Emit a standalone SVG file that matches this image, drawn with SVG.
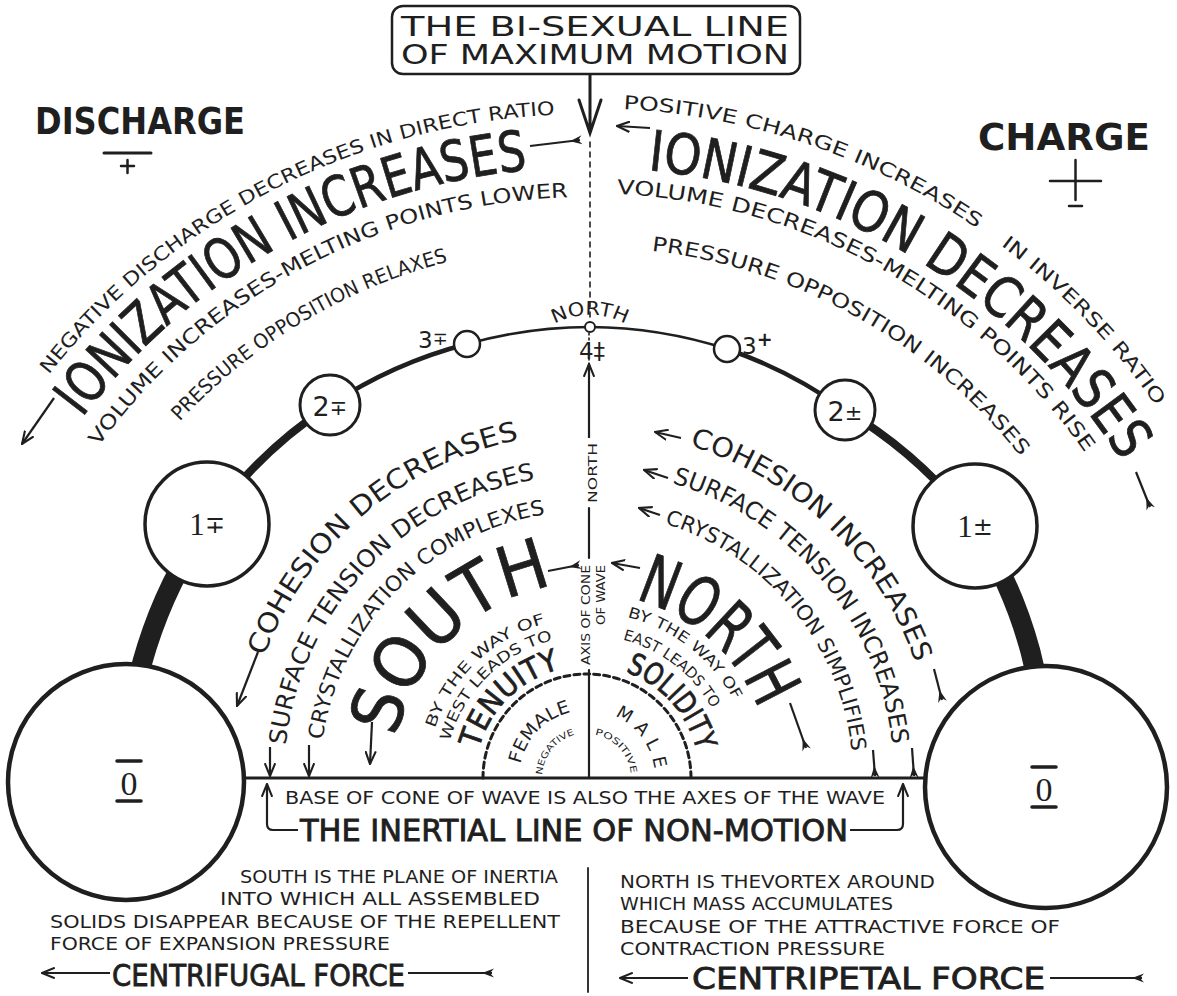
<svg xmlns="http://www.w3.org/2000/svg" width="1177" height="996" viewBox="0 0 1177 996">
<style>
.ink{fill:#1f1f1f}
.s{font-family:"DejaVu Sans","Liberation Sans",sans-serif;fill:#1f1f1f}
.big{stroke:#1f1f1f;stroke-width:0.8}
.sb{font-family:"DejaVu Sans","Liberation Sans",sans-serif;font-weight:bold;fill:#1f1f1f}
.c{font-family:"DejaVu Sans Condensed","DejaVu Sans",sans-serif;fill:#1f1f1f}
.sr{font-family:"Liberation Serif","DejaVu Serif",serif;fill:#1f1f1f}
.ln{stroke:#1f1f1f;fill:none;stroke-linecap:round}
.nd{fill:#fff;stroke:#1f1f1f}
.ar{stroke:#1f1f1f;fill:none;stroke-width:2.2;marker-end:url(#ah)}
.tl{stroke:#1f1f1f;fill:none;stroke-width:2.2;marker-start:url(#fl)}
</style>
<defs>
<marker id="ah" viewBox="0 0 12 10" refX="11" refY="5" markerWidth="14" markerHeight="12" markerUnits="userSpaceOnUse" orient="auto"><path d="M0,0.5 L11,5 L0,9.5" fill="none" stroke="#1f1f1f" stroke-width="1.8"/></marker>
<marker id="fl" viewBox="0 0 12 10" refX="2" refY="5" markerWidth="14" markerHeight="10" markerUnits="userSpaceOnUse" orient="auto"><path d="M0,0.5 L12,5 L0,9.5 L4,5 Z" fill="#1f1f1f"/></marker>
<path id="pB686" d="M-99,800 A686,686 0 0 1 1273,800"/>
<path id="pB692" d="M-105,800 A692,692 0 0 1 1279,800"/>
<path id="pB633" d="M-46,800 A633,633 0 0 1 1220,800"/>
<path id="pB603" d="M-16,800 A603,603 0 0 1 1190,800"/>
<path id="pB607" d="M-20,800 A607,607 0 0 1 1194,800"/>
<path id="pB556" d="M31,800 A556,556 0 0 1 1143,800"/>
<path id="pB553" d="M34,800 A553,553 0 0 1 1140,800"/>
<path id="pA345" d="M242,778 A345,345 0 0 1 932,778"/>
<path id="pA303" d="M284,778 A303,303 0 0 1 890,778"/>
<path id="pA267" d="M320,778 A267,267 0 0 1 854,778"/>
<path id="pA195" d="M392,778 A195,195 0 0 1 782,778"/>
<path id="pA160" d="M427,778 A160,160 0 0 1 747,778"/>
<path id="pA142" d="M445,778 A142,142 0 0 1 729,778"/>
<path id="pA112" d="M475,778 A112,112 0 0 1 699,778"/>
<path id="pA348" d="M239,778 A348,348 0 0 1 935,778"/>
<path id="pA307" d="M280,778 A307,307 0 0 1 894,778"/>
<path id="pA266" d="M321,778 A266,266 0 0 1 853,778"/>
<path id="pA185" d="M402,778 A185,185 0 0 1 772,778"/>
<path id="pA166" d="M421,778 A166,166 0 0 1 753,778"/>
<path id="pA143" d="M444,778 A143,143 0 0 1 730,778"/>
<path id="pA113" d="M474,778 A113,113 0 0 1 700,778"/>
<path id="pA68" d="M519,778 A68,68 0 0 1 655,778"/>
<path id="pA45" d="M542,778 A45,45 0 0 1 632,778"/>
<path id="pA44" d="M543,778 A44,44 0 0 1 631,778"/>
<path id="pN" d="M515,390 A75,75 0 0 1 665,390"/>
</defs>
<rect width="1177" height="996" fill="#fff"/>

<g id="connectors">
  <path class="ln" stroke-width="20" stroke-linecap="butt" d="M126,782 A455,455 0 0 1 207,524"/>
  <path class="ln" stroke-width="8" d="M207,524 A455,455 0 0 1 330,405"/>
  <path class="ln" stroke-width="4.5" d="M330,405 A455,455 0 0 1 467,344"/>
  <path class="ln" stroke-width="2.5" d="M467,344 A455,455 0 0 1 590,327"/>
  <path class="ln" stroke-width="2.5" d="M590,327 A455,455 0 0 1 727,349"/>
  <path class="ln" stroke-width="4.5" d="M727,349 A455,455 0 0 1 845,410"/>
  <path class="ln" stroke-width="8" d="M845,410 A455,455 0 0 1 975,526"/>
  <path class="ln" stroke-width="20" stroke-linecap="butt" d="M975,526 A455,455 0 0 1 1046,787"/>
  <path class="ln" stroke-width="3" d="M590,74 L590,133 M579,100 L590,133 L601,100"/>
  <path class="ln" stroke-width="1.6" stroke-dasharray="5,5" d="M590,142 L590,322"/>
  <path class="ln" stroke-width="1.6" stroke-dasharray="2,3" d="M589,333 L589,364"/>
  <path class="ar" d="M589,438 L589,364"/>
  <path class="ln" stroke-width="2.2" d="M589,508 L589,558 M589,670 L589,778"/>
  <path class="ln" stroke-width="3" d="M245,778 L925,778"/>
  <path class="ln" stroke-width="3" stroke-dasharray="6,4" stroke-linecap="butt" d="M483,778 A104,104 0 0 1 691,778"/>
  <path class="tl" d="M580,140 L530,146"/>
  <path class="ar" d="M54,398 L22,444"/>
  <path class="ar" d="M650,128 L617,126"/>
  <path class="tl" d="M1150,507 L1136,472"/>
  <path class="ar" d="M258,652 L237,706"/>
  <path class="ar" d="M270,747 L270,776"/>
  <path class="ar" d="M309,745 L309,776"/>
  <path class="ar" d="M372,722 L370,764"/>
  <path class="tl" d="M579,565 L548,571"/>
  <path class="ar" d="M681,438 L655,432"/>
  <path class="tl" d="M942,700 L934,669"/>
  <path class="ar" d="M668,478 L644,470"/>
  <path class="tl" d="M914,776 L912,748"/>
  <path class="ar" d="M660,515 L639,508"/>
  <path class="tl" d="M875,776 L873,750"/>
  <path class="ar" d="M640,568 L612,563"/>
  <path class="tl" d="M806,748 L790,703"/>
  <path class="ar" d="M298,830 L273,830 Q267,830 267,824 L267,784"/>
  <path class="ar" d="M850,830 L897,830 Q903,830 903,824 L903,784"/>
  <path class="ar" d="M110,973 L42,973"/>
  <path class="tl" d="M492,973 L408,973"/>
  <path class="ar" d="M688,978 L620,978"/>
  <path class="tl" d="M1142,978 L1050,978"/>
  <path class="ln" stroke-width="1.8" d="M588,868 L588,992"/>
</g>

<g id="title-box">
  <rect x="392" y="6" width="408" height="68" rx="11" fill="#fff" stroke="#1f1f1f" stroke-width="2.5"/>
  <text class="s" x="401" y="36" font-size="27" textLength="388" lengthAdjust="spacingAndGlyphs">THE BI-SEXUAL LINE</text>
  <text class="s" x="401" y="64" font-size="27" textLength="388" lengthAdjust="spacingAndGlyphs">OF MAXIMUM MOTION</text>
</g>

<g id="discharge">
  <text class="sb" x="35" y="134" font-size="38" textLength="210" lengthAdjust="spacingAndGlyphs">DISCHARGE</text>
  <path class="ln" stroke-width="3" d="M104,153 L151,153"/>
  <path class="ln" stroke-width="2.5" d="M121,166 L134,166 M127.5,160 L127.5,173"/>
</g>
<g id="charge">
  <text class="sb" x="978" y="150" font-size="38" textLength="172" lengthAdjust="spacingAndGlyphs">CHARGE</text>
  <path class="ln" stroke-width="2.5" d="M1050,181 L1101,181 M1075.5,160 L1075.5,200 M1069,206 L1082,206"/>
</g>

<g id="outer-left">
  <text class="s" font-size="19"><textPath href="#pB686" startOffset="458.6" textLength="586.7" lengthAdjust="spacingAndGlyphs">NEGATIVE DISCHARGE DECREASES IN DIRECT RATIO</textPath></text>
  <text class="s big" font-size="56"><textPath href="#pB633" startOffset="409.9" textLength="524.8" lengthAdjust="spacingAndGlyphs">IONIZATION INCREASES</textPath></text>
  <text class="s" font-size="20"><textPath href="#pB603" startOffset="377.8" textLength="550.4" lengthAdjust="spacingAndGlyphs">VOLUME INCREASES-MELTING POINTS LOWER</textPath></text>
  <text class="s" font-size="20"><textPath href="#pB556" startOffset="416.3" textLength="316.4" lengthAdjust="spacingAndGlyphs">PRESSURE OPPOSITION RELAXES</textPath></text>
</g>

<g id="outer-right">
  <text class="s" font-size="19"><textPath href="#pB692" startOffset="1123.2" textLength="378" lengthAdjust="spacingAndGlyphs">POSITIVE CHARGE INCREASES</textPath></text>
  <text class="s" font-size="19"><textPath href="#pB692" startOffset="1530.2" textLength="224.6" lengthAdjust="spacingAndGlyphs">IN INVERSE RATIO</textPath></text>
  <text class="s big" font-size="56"><textPath href="#pB633" startOffset="1055.1" textLength="576.7" lengthAdjust="spacingAndGlyphs">IONIZATION DECREASES</textPath></text>
  <text class="s" font-size="20"><textPath href="#pB607" startOffset="983.2" textLength="554.1" lengthAdjust="spacingAndGlyphs">VOLUME DECREASES-MELTING POINTS RISE</textPath></text>
  <text class="s" font-size="20"><textPath href="#pB553" startOffset="933.3" textLength="433.4" lengthAdjust="spacingAndGlyphs">PRESSURE OPPOSITION INCREASES</textPath></text>
</g>

<g id="inner-left">
  <text class="s" font-size="27"><textPath href="#pA345" startOffset="124" textLength="349.2" lengthAdjust="spacingAndGlyphs">COHESION DECREASES</textPath></text>
  <text class="s" font-size="24"><textPath href="#pA303" startOffset="32.8" textLength="390.8" lengthAdjust="spacingAndGlyphs">SURFACE TENSION DECREASES</textPath></text>
  <text class="s" font-size="21"><textPath href="#pA267" startOffset="38.2" textLength="339.3" lengthAdjust="spacingAndGlyphs">CRYSTALLIZATION COMPLEXES</textPath></text>
  <text class="s big" font-size="70"><textPath href="#pA195" startOffset="40.8" textLength="231.4" lengthAdjust="spacingAndGlyphs">SOUTH</textPath></text>
  <text class="s" font-size="15"><textPath href="#pA160" startOffset="50.3" textLength="159.2" lengthAdjust="spacingAndGlyphs">BY THE WAY OF</textPath></text>
  <text class="s" font-size="15"><textPath href="#pA142" startOffset="37.2" textLength="151.2" lengthAdjust="spacingAndGlyphs">WEST LEADS TO</textPath></text>
  <text class="s big" font-size="30"><textPath href="#pA112" startOffset="29.3" textLength="119.2" lengthAdjust="spacingAndGlyphs">TENUITY</textPath></text>
</g>

<g id="inner-right">
  <text class="s" font-size="27"><textPath href="#pA348" startOffset="650.5" textLength="325" lengthAdjust="spacingAndGlyphs">COHESION INCREASES</textPath></text>
  <text class="s" font-size="24"><textPath href="#pA307" startOffset="568" textLength="362" lengthAdjust="spacingAndGlyphs">SURFACE TENSION INCREASES</textPath></text>
  <text class="s" font-size="21"><textPath href="#pA266" startOffset="496.3" textLength="312.4" lengthAdjust="spacingAndGlyphs">CRYSTALLIZATION SIMPLIFIES</textPath></text>
  <text class="s big" font-size="68"><textPath href="#pA185" startOffset="339" textLength="172" lengthAdjust="spacingAndGlyphs">NORTH</textPath></text>
  <text class="s" font-size="15"><textPath href="#pA166" startOffset="301.3" textLength="139.1" lengthAdjust="spacingAndGlyphs">BY THE WAY OF</textPath></text>
  <text class="s" font-size="15"><textPath href="#pA143" startOffset="260.6" textLength="115.8" lengthAdjust="spacingAndGlyphs">EAST LEADS TO</textPath></text>
  <text class="s big" font-size="30"><textPath href="#pA113" startOffset="216.4" textLength="111" lengthAdjust="spacingAndGlyphs">SOLIDITY</textPath></text>
</g>

<g id="female-male">
  <text class="s" font-size="18"><textPath href="#pA68" startOffset="14.2" textLength="76" lengthAdjust="spacingAndGlyphs">FEMALE</textPath></text>
  <text class="s" font-size="9"><textPath href="#pA45" startOffset="3.1" textLength="55" lengthAdjust="spacingAndGlyphs">NEGATIVE</textPath></text>
  <text class="s" font-size="18"><textPath href="#pA68" startOffset="135.3" textLength="68.8" lengthAdjust="spacing">MALE</textPath></text>
  <text class="s" font-size="9"><textPath href="#pA44" startOffset="76.8" textLength="56.8" lengthAdjust="spacingAndGlyphs">POSITIVE</textPath></text>
</g>

<g id="axis-labels">
  <text class="s" font-size="19"><textPath href="#pN" startOffset="50%" text-anchor="middle" textLength="74" lengthAdjust="spacingAndGlyphs">NORTH</textPath></text>
  <text class="s" x="592" y="359" font-size="23" text-anchor="middle">4‡</text>
  <text class="s" font-size="12" transform="translate(597,473) rotate(-90)" text-anchor="middle" textLength="60" lengthAdjust="spacingAndGlyphs">NORTH</text>
  <text class="s" font-size="13" transform="translate(590,615) rotate(-90)" text-anchor="middle" textLength="100" lengthAdjust="spacingAndGlyphs">AXIS OF CONE</text>
  <text class="s" font-size="12" transform="translate(605,595) rotate(-90)" text-anchor="middle" textLength="60" lengthAdjust="spacingAndGlyphs">OF WAVE</text>
</g>

<g id="node-0-left">
  <circle class="nd" cx="126" cy="782" r="118" stroke-width="4.5"/>
  <path class="ln" stroke-width="3.5" d="M117,761 L141,761 M117,801 L141,801"/>
  <text class="sr" x="129" y="795" font-size="34" text-anchor="middle">0</text>
</g>
<g id="node-1-left">
  <circle class="nd" cx="207" cy="524" r="62" stroke-width="3.5"/>
  <text class="sr" x="207" y="535" font-size="31" text-anchor="middle">1<tspan class="s" font-size="24" dy="-2">∓</tspan></text>
</g>
<g id="node-2-left">
  <circle class="nd" cx="330" cy="405" r="30" stroke-width="3"/>
  <text class="s" x="330" y="416" font-size="27" text-anchor="middle">2<tspan font-size="21" dy="-1">∓</tspan></text>
</g>
<g id="node-3-left">
  <circle class="nd" cx="467" cy="344" r="13" stroke-width="2.5"/>
  <text class="s" x="418" y="348" font-size="23">3<tspan font-size="18" dy="-3">∓</tspan></text>
</g>
<g id="node-north">
  <circle class="nd" cx="590" cy="327" r="5" stroke-width="2"/>
</g>
<g id="node-3-right">
  <circle class="nd" cx="727" cy="349" r="13" stroke-width="2.5"/>
  <text class="s" x="742" y="354" font-size="23">3<tspan class="sb" font-size="19" dy="-8">+</tspan></text>
</g>
<g id="node-2-right">
  <circle class="nd" cx="845" cy="410" r="30" stroke-width="3"/>
  <text class="s" x="845" y="421" font-size="27" text-anchor="middle">2<tspan font-size="21" dy="-1">±</tspan></text>
</g>
<g id="node-1-right">
  <circle class="nd" cx="975" cy="526" r="62" stroke-width="3.5"/>
  <text class="sr" x="975" y="537" font-size="31" text-anchor="middle">1<tspan class="s" font-size="24" dy="-2">±</tspan></text>
</g>
<g id="node-0-right">
  <circle class="nd" cx="1046" cy="787" r="121" stroke-width="4.5"/>
  <path class="ln" stroke-width="3.5" d="M1032,767 L1056,767 M1032,807 L1056,807"/>
  <text class="sr" x="1044" y="801" font-size="34" text-anchor="middle">0</text>
</g>

<g id="base-texts">
  <text class="c" x="285" y="804" font-size="17" textLength="600" lengthAdjust="spacingAndGlyphs">BASE OF CONE OF WAVE IS ALSO THE AXES OF THE WAVE</text>
  <text class="c big" x="300" y="841" font-size="30" textLength="548" lengthAdjust="spacingAndGlyphs">THE INERTIAL LINE OF NON-MOTION</text>
</g>

<g id="south-note">
  <text class="c" x="240" y="883" font-size="17" textLength="318" lengthAdjust="spacingAndGlyphs">SOUTH IS THE PLANE OF INERTIA</text>
  <text class="c" x="220" y="905" font-size="17" textLength="320" lengthAdjust="spacingAndGlyphs">INTO WHICH ALL ASSEMBLED</text>
  <text class="c" x="50" y="928" font-size="17" textLength="510" lengthAdjust="spacingAndGlyphs">SOLIDS DISAPPEAR BECAUSE OF THE REPELLENT</text>
  <text class="c" x="50" y="950" font-size="17" textLength="340" lengthAdjust="spacingAndGlyphs">FORCE OF EXPANSION PRESSURE</text>
  <text class="c big" x="112" y="986" font-size="30" textLength="293" lengthAdjust="spacingAndGlyphs">CENTRIFUGAL FORCE</text>
</g>
<g id="north-note">
  <text class="c" x="620" y="888" font-size="17" textLength="315" lengthAdjust="spacingAndGlyphs">NORTH IS THEVORTEX AROUND</text>
  <text class="c" x="620" y="910" font-size="17" textLength="273" lengthAdjust="spacingAndGlyphs">WHICH MASS ACCUMULATES</text>
  <text class="c" x="620" y="933" font-size="17" textLength="440" lengthAdjust="spacingAndGlyphs">BECAUSE OF THE ATTRACTIVE FORCE OF</text>
  <text class="c" x="620" y="955" font-size="17" textLength="265" lengthAdjust="spacingAndGlyphs">CONTRACTION PRESSURE</text>
  <text class="c big" x="692" y="989" font-size="30" textLength="353" lengthAdjust="spacingAndGlyphs">CENTRIPETAL FORCE</text>
</g>
</svg>
